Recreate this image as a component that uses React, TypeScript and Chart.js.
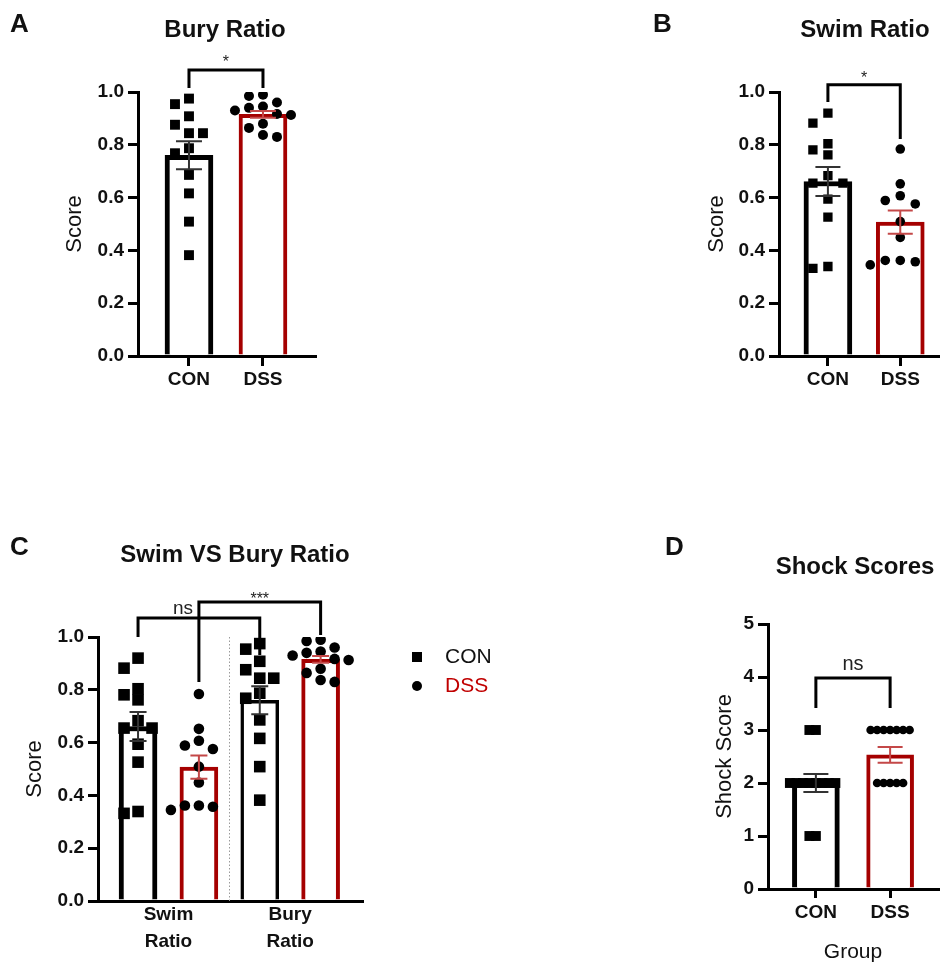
import React, { useEffect, useRef } from "react";
import { Chart, registerables } from "chart.js";
Chart.register(...registerables);

// ---------------- data ----------------
const GROUPS = ["CON", "DSS"];
const RATIO_TICKS = [0, 0.2, 0.4, 0.6, 0.8, 1.0];
const SHOCK_TICKS = [0, 1, 2, 3, 4, 5];
const C_CATEGORIES = [["Swim", "Ratio"], ["Bury", "Ratio"]];

const buryCON = [0.975, 0.954, 0.908, 0.876, 0.844, 0.844, 0.787, 0.768, 0.686, 0.616, 0.509, 0.382];
const buryDSS = [0.99, 0.985, 0.96, 0.945, 0.94, 0.93, 0.917, 0.913, 0.88, 0.864, 0.837, 0.83];
const swimCON = [0.92, 0.882, 0.804, 0.781, 0.762, 0.683, 0.655, 0.655, 0.594, 0.526, 0.339, 0.332];
const swimDSS = [0.784, 0.652, 0.607, 0.589, 0.576, 0.509, 0.449, 0.362, 0.362, 0.357, 0.345];
const shockCON = [3, 3, 2, 2, 2, 2, 2, 2, 2, 2, 1, 1];
const shockDSS = [3, 3, 3, 3, 3, 3, 3, 2, 2, 2, 2, 2];

const buryMean = [0.76, 0.915];
const burySem = [0.053, 0.013];
const swimMean = [0.661, 0.507];
const swimSem = [0.055, 0.044];
const shockMean = [2.0, 2.53];
const shockSem = [0.17, 0.15];

// ---------------- styles ----------------
const BLACK = "#000000";
const RED = "#a50000";
const RED_ERR = "#c44848";
const BLACK_ERR = "#333333";
const ARIAL = "'Liberation Sans', Arial, sans-serif";
const TICK_SIZE = 19;
const AXIS_TITLE_SIZE = 22;

type Bar = { x: number; mean: number; sem: number; color: string; errColor: string; border: number };
type Pts = { x: number; values: number[]; style: string; radius: number };
type Bracket = { x1: number; x2: number; top: number; left: number; right: number; label: string; labelX: number; font: string; dy: number };
type Txt = { text: string; x: number; y: number; font: string; color?: string; align?: CanvasTextAlign };
type Legend = { x: number; textX: number; items: { y: number; style: string; label: string; color: string }[]; font: string };

interface Panel {
  box: [number, number, number, number];
  area: [number, number, number, number];
  xAxisH: number;
  xMin: number; xMax: number; yMax: number;
  yTicks: number[]; yFmt: (v: number) => string;
  xTicks: number[]; xLabels: (string | string[])[];
  xTickLen: number; xTickPad: number; xLineHeight: number;
  yTitle: string; yTitleX: number;
  xTitle?: string; xTitleY?: number;
  barThickness: number;
  bars: Bar[]; points: Pts[];
  swarmStep: number; swarmDist: number;
  capW: number;
  brackets: Bracket[];
  texts: Txt[];
  divider?: number;
  legend?: Legend;
}

const fmt1 = (v: number) => v.toFixed(1);
const fmt0 = (v: number) => String(Math.round(v));
const TITLE = `bold 24px ${ARIAL}`;
const LETTER = `bold 26px ${ARIAL}`;
const STAR = `16px ${ARIAL}`;

const panelA: Panel = {
  box: [0, 0, 340, 420], area: [138, 92, 315, 356], xAxisH: 50,
  xMin: -0.689, xMax: 1.703, yMax: 1, yTicks: RATIO_TICKS, yFmt: fmt1,
  xTicks: [0, 1], xLabels: GROUPS, xTickLen: 10, xTickPad: 2, xLineHeight: 1.2,
  yTitle: "Score", yTitleX: 75,
  barThickness: 48,
  bars: [
    { x: 0, mean: buryMean[0], sem: burySem[0], color: BLACK, errColor: BLACK_ERR, border: 5 },
    { x: 1, mean: buryMean[1], sem: burySem[1], color: RED, errColor: RED_ERR, border: 4 },
  ],
  points: [
    { x: 0, values: buryCON, style: "rect", radius: 7 },
    { x: 1, values: buryDSS, style: "circle", radius: 5 },
  ],
  swarmStep: 14, swarmDist: 9, capW: 26,
  brackets: [{ x1: 0, x2: 1, top: 1.083, left: 1.015, right: 1.015, label: "*", labelX: 0.5, font: STAR, dy: -3 }],
  texts: [
    { text: "A", x: 10, y: 25, font: LETTER, align: "left" },
    { text: "Bury Ratio", x: 225, y: 30, font: TITLE },
  ],
};

const panelB: Panel = {
  box: [640, 0, 305, 420], area: [139, 92, 302, 356], xAxisH: 50,
  xMin: -0.676, xMax: 1.527, yMax: 1, yTicks: RATIO_TICKS, yFmt: fmt1,
  xTicks: [0, 1], xLabels: GROUPS, xTickLen: 10, xTickPad: 2, xLineHeight: 1.2,
  yTitle: "Score", yTitleX: 77,
  barThickness: 48,
  bars: [
    { x: 0, mean: swimMean[0], sem: swimSem[0], color: BLACK, errColor: BLACK_ERR, border: 5 },
    { x: 1, mean: swimMean[1], sem: swimSem[1], color: RED, errColor: RED_ERR, border: 4 },
  ],
  points: [
    { x: 0, values: swimCON, style: "rect", radius: 6.6 },
    { x: 1, values: swimDSS, style: "circle", radius: 4.8 },
  ],
  swarmStep: 15, swarmDist: 11, capW: 25,
  brackets: [{ x1: 0, x2: 1, top: 1.027, left: 0.962, right: 0.822, label: "*", labelX: 0.5, font: STAR, dy: -2 }],
  texts: [
    { text: "B", x: 13, y: 25, font: LETTER, align: "left" },
    { text: "Swim Ratio", x: 225, y: 30, font: TITLE },
  ],
};

const panelC: Panel = {
  box: [0, 480, 530, 484], area: [98, 157, 362, 421], xAxisH: 63,
  xMin: -0.658, xMax: 3.68, yMax: 1, yTicks: RATIO_TICKS, yFmt: fmt1,
  xTicks: [0.5, 2.5], xLabels: C_CATEGORIES, xTickLen: 0, xTickPad: 0.5, xLineHeight: 1.42,
  yTitle: "Score", yTitleX: 35,
  barThickness: 38,
  bars: [
    { x: 0, mean: swimMean[0], sem: swimSem[0], color: BLACK, errColor: BLACK_ERR, border: 5 },
    { x: 1, mean: swimMean[1], sem: swimSem[1], color: RED, errColor: RED_ERR, border: 4 },
    { x: 2, mean: buryMean[0], sem: burySem[0], color: BLACK, errColor: BLACK_ERR, border: 3.5 },
    { x: 3, mean: buryMean[1], sem: burySem[1], color: RED, errColor: RED_ERR, border: 4 },
  ],
  points: [
    { x: 0, values: swimCON, style: "rect", radius: 8.2 },
    { x: 1, values: swimDSS, style: "circle", radius: 5.3 },
    { x: 2, values: buryCON, style: "rect", radius: 8.2 },
    { x: 3, values: buryDSS, style: "circle", radius: 5.3 },
  ],
  swarmStep: 14, swarmDist: 11, capW: 17,
  brackets: [
    { x1: 0, x2: 2, top: 1.072, left: 1.0, right: 0.932, label: "ns", labelX: 0.74, font: `19px ${ARIAL}`, dy: -4 },
    { x1: 1, x2: 3, top: 1.133, left: 0.83, right: 1.008, label: "***", labelX: 2, font: STAR, dy: 2 },
  ],
  texts: [
    { text: "C", x: 10, y: 68, font: LETTER, align: "left" },
    { text: "Swim VS Bury Ratio", x: 235, y: 75, font: TITLE },
  ],
  divider: 1.5,
  legend: {
    x: 417, textX: 445, font: `21px ${ARIAL}`,
    items: [
      { y: 177, style: "rect", label: GROUPS[0], color: "#111111" },
      { y: 206, style: "circle", label: GROUPS[1], color: "#c00000" },
    ],
  },
};

const panelD: Panel = {
  box: [640, 480, 305, 484], area: [128, 144, 302, 409], xAxisH: 75,
  xMin: -0.645, xMax: 1.645, yMax: 5, yTicks: SHOCK_TICKS, yFmt: fmt0,
  xTicks: [0, 1], xLabels: GROUPS, xTickLen: 9, xTickPad: 3, xLineHeight: 1.2,
  yTitle: "Shock Score", yTitleX: 85, xTitle: "Group", xTitleY: 472,
  barThickness: 47,
  bars: [
    { x: 0, mean: shockMean[0], sem: shockSem[0], color: BLACK, errColor: BLACK_ERR, border: 5 },
    { x: 1, mean: shockMean[1], sem: shockSem[1], color: RED, errColor: RED_ERR, border: 4 },
  ],
  points: [
    { x: 0, values: shockCON, style: "rect", radius: 7 },
    { x: 1, values: shockDSS, style: "circle", radius: 4.3 },
  ],
  swarmStep: 6.5, swarmDist: 6, capW: 25,
  brackets: [{ x1: 0, x2: 1, top: 3.98, left: 3.415, right: 3.415, label: "ns", labelX: 0.5, font: `20px ${ARIAL}`, dy: -8 }],
  texts: [
    { text: "D", x: 25, y: 68, font: LETTER, align: "left" },
    { text: "Shock Scores", x: 215, y: 87, font: TITLE },
  ],
};

const PANELS = [panelA, panelB, panelC, panelD];

function overlay(p: Panel) {
  return {
    id: "overlay",
    beforeDatasetsDraw(chart: any) {
      if (p.divider === undefined) return;
      const ctx = chart.ctx, xs = chart.scales.x, ys = chart.scales.y;
      const x = Math.round(xs.getPixelForValue(p.divider)) + 0.5;
      ctx.save();
      ctx.strokeStyle = "#9a9a9a";
      ctx.lineWidth = 1;
      ctx.setLineDash([1.5, 2]);
      ctx.beginPath();
      ctx.moveTo(x, ys.getPixelForValue(p.yMax));
      ctx.lineTo(x, ys.getPixelForValue(0));
      ctx.stroke();
      ctx.restore();
    },
    afterDatasetsDraw(chart: any) {
      const ctx = chart.ctx, xs = chart.scales.x, ys = chart.scales.y;
      for (const b of p.bars) {
        const cx = xs.getPixelForValue(b.x);
        const yt = ys.getPixelForValue(b.mean + b.sem);
        const yb = ys.getPixelForValue(b.mean - b.sem);
        ctx.save();
        ctx.strokeStyle = b.errColor;
        ctx.lineWidth = 2;
        ctx.beginPath();
        ctx.moveTo(cx, yt); ctx.lineTo(cx, yb);
        ctx.moveTo(cx - p.capW / 2, yt); ctx.lineTo(cx + p.capW / 2, yt);
        ctx.moveTo(cx - p.capW / 2, yb); ctx.lineTo(cx + p.capW / 2, yb);
        ctx.stroke();
        ctx.restore();
      }
    },
    afterDraw(chart: any) {
      const ctx = chart.ctx, xs = chart.scales.x, ys = chart.scales.y;
      ctx.save();
      for (const br of p.brackets) {
        const x1 = xs.getPixelForValue(br.x1), x2 = xs.getPixelForValue(br.x2);
        const yt = ys.getPixelForValue(br.top);
        ctx.strokeStyle = BLACK;
        ctx.lineWidth = 3;
        ctx.lineJoin = "miter";
        ctx.beginPath();
        ctx.moveTo(x1, ys.getPixelForValue(br.left));
        ctx.lineTo(x1, yt);
        ctx.lineTo(x2, yt);
        ctx.lineTo(x2, ys.getPixelForValue(br.right));
        ctx.stroke();
        ctx.fillStyle = "#222";
        ctx.font = br.font;
        ctx.textAlign = "center";
        ctx.textBaseline = "alphabetic";
        ctx.fillText(br.label, xs.getPixelForValue(br.labelX), yt + br.dy);
      }
      for (const t of p.texts) {
        ctx.fillStyle = t.color || "#111";
        ctx.font = t.font;
        ctx.textAlign = t.align || "center";
        ctx.textBaseline = "middle";
        ctx.fillText(t.text, t.x, t.y);
      }
      if (p.legend) {
        const lg = p.legend;
        for (const it of lg.items) {
          ctx.fillStyle = BLACK;
          if (it.style === "rect") ctx.fillRect(lg.x - 5, it.y - 5, 10, 10);
          else { ctx.beginPath(); ctx.arc(lg.x, it.y, 5, 0, Math.PI * 2); ctx.fill(); }
          ctx.fillStyle = it.color;
          ctx.font = lg.font;
          ctx.textAlign = "left";
          ctx.textBaseline = "middle";
          ctx.fillText(it.label, lg.textX, it.y);
        }
      }
      ctx.restore();
    },
  };
}

function PanelChart({ p }: { p: Panel }) {
  const ref = useRef<HTMLCanvasElement>(null);
  useEffect(() => {
    const canvas = ref.current!;
    const [, , bw, bh] = p.box;
    const [al, at, ar, ab] = p.area;
    const datasets: any[] = [
      {
        type: "bar",
        data: p.bars.map((b) => ({ x: b.x, y: b.mean })),
        backgroundColor: "#ffffff",
        borderColor: p.bars.map((b) => b.color),
        borderWidth: p.bars.map((b) => b.border),
        borderSkipped: "bottom",
        barThickness: p.barThickness,
        order: 2,
      },
      ...p.points.map((s) => ({
        type: "scatter",
        data: s.values.map((v) => ({ x: s.x, y: v })),
        pointStyle: s.style,
        pointRadius: s.radius,
        pointHoverRadius: s.radius,
        backgroundColor: BLACK,
        borderColor: BLACK,
        borderWidth: 0,
        order: 1,
      })),
    ];
    const chart = new Chart(canvas, {
      type: "bar",
      data: { datasets },
      options: {
        responsive: false,
        animation: false,
        devicePixelRatio: 1,
        events: [],
        layout: { padding: { left: 0, top: at, right: bw - ar, bottom: bh - ab - p.xAxisH } },
        plugins: { legend: { display: false }, tooltip: { enabled: false }, title: { display: false } },
        scales: {
          x: {
            type: "linear",
            min: p.xMin,
            max: p.xMax,
            offset: false,
            afterBuildTicks: (s: any) => { s.ticks = p.xTicks.map((v) => ({ value: v })); },
            afterFit: (s: any) => { s.height = p.xAxisH; },
            ticks: {
              autoSkip: false,
              maxRotation: 0,
              padding: p.xTickPad,
              color: "#111",
              font: { family: ARIAL, size: TICK_SIZE, weight: "bold", lineHeight: p.xLineHeight },
              callback: (v: any) => { const i = p.xTicks.indexOf(Number(v)); return i >= 0 ? p.xLabels[i] : ""; },
            },
            grid: {
              offset: false,
              drawOnChartArea: false,
              drawTicks: p.xTickLen > 0,
              tickLength: p.xTickLen,
              color: BLACK,
              lineWidth: 3,
            },
            border: { display: true, color: BLACK, width: 3 },
            title: p.xTitle
              ? { display: true, text: p.xTitle, color: "#111", font: { family: ARIAL, size: 21 }, padding: { top: 0, bottom: bh - p.xTitleY! - 21 * 0.6 } }
              : { display: false },
          },
          y: {
            type: "linear",
            min: 0,
            max: p.yMax,
            afterBuildTicks: (s: any) => { s.ticks = p.yTicks.map((v) => ({ value: v })); },
            afterFit: (s: any) => { s.width = al; },
            ticks: {
              padding: 4,
              color: "#111",
              font: { family: ARIAL, size: TICK_SIZE, weight: "bold" },
              callback: (v: any) => p.yFmt(Number(v)),
            },
            grid: { drawOnChartArea: false, tickLength: 10, color: BLACK, lineWidth: 3 },
            border: { display: true, color: BLACK, width: 3 },
            title: {
              display: true,
              text: p.yTitle,
              color: "#111",
              font: { family: ARIAL, size: AXIS_TITLE_SIZE },
              padding: { top: p.yTitleX - AXIS_TITLE_SIZE * 0.6, bottom: 0 },
            },
          },
        },
      } as any,
      plugins: [overlay(p) as any],
    });

    // beeswarm placement of individual points using the chart's scales
    const xs: any = chart.scales.x, ys: any = chart.scales.y;
    p.points.forEach((s, si) => {
      const cx = xs.getPixelForValue(s.x);
      const placed: { x: number; y: number }[] = [];
      const data = s.values.map((v) => {
        const py = ys.getPixelForValue(v);
        let px = cx;
        for (let k = 0; k < 60; k++) {
          const n = Math.ceil(k / 2);
          const off = k === 0 ? 0 : (k % 2 === 1 ? -n : n) * p.swarmStep;
          const cand = cx + off;
          if (placed.every((q) => Math.hypot(q.x - cand, q.y - py) >= p.swarmDist)) { px = cand; break; }
        }
        placed.push({ x: px, y: py });
        return { x: xs.getValueForPixel(px), y: v };
      });
      (chart.data.datasets[si + 1] as any).data = data;
    });
    chart.update();
    return () => chart.destroy();
  }, [p]);
  const [bl, bt, bw, bh] = p.box;
  return (
    <div style={{ position: "absolute", left: bl, top: bt, width: bw, height: bh }}>
      <canvas ref={ref} width={bw} height={bh} style={{ display: "block" }} />
    </div>
  );
}

export default function App() {
  return (
    <div style={{ position: "absolute", left: 0, top: 0, width: 945, height: 964, background: "#ffffff", overflow: "hidden" }}>
      {PANELS.map((p, i) => (
        <PanelChart key={i} p={p} />
      ))}
    </div>
  );
}
